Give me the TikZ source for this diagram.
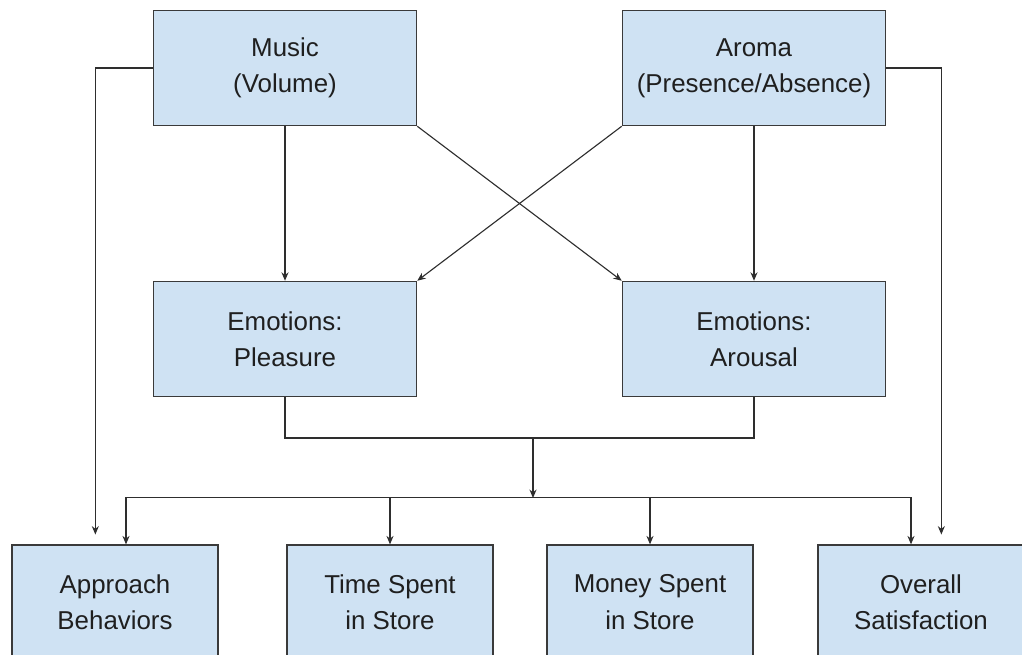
\documentclass[tikz,border=0pt]{standalone}
\usepackage{fontspec}
\setmainfont{Liberation Sans}
\usetikzlibrary{arrows.meta,calc}

\definecolor{boxblue}{HTML}{CFE2F3}
\definecolor{edgegray}{HTML}{3A3A3A}
\definecolor{wiregray}{HTML}{2E2E2E}

\tikzset{
  factor/.style={draw=edgegray, line width=0.9pt, fill=boxblue, align=center,
    font=\fontsize{18.4}{25.8}\selectfont, text=black!88,
    minimum width=6.58cm, minimum height=2.88cm},
  outcome/.style={factor, minimum width=5.15cm, minimum height=2.85cm},
  wire/.style={draw=wiregray, line width=0.8pt},
  flow/.style={wire, -{Stealth[length=6pt,width=5pt]}}
}

\begin{document}
\begin{tikzpicture}[x=0.025cm, y=-0.025cm]
  \useasboundingbox (0,0) rectangle (1022,654);

  % Stimuli
  \node[factor] (music) at (285,68) {Music\\(Volume)};
  \node[factor] (aroma) at (754,68) {Aroma\\(Presence/Absence)};

  % Emotions
  \node[factor] (pleasure) at (285,339) {Emotions:\\Pleasure};
  \node[factor] (arousal) at (754,339) {Emotions:\\Arousal};

  % Outcomes
  \node[outcome] (approach) at (115,602) {Approach\\Behaviors};
  \node[outcome] (time) at (390,602) {Time Spent\\in Store};
  \node[outcome] (money) at (650,602) {Money Spent\\in Store};
  \node[outcome] (overall) at (921,602) {Overall\\Satisfaction};

  % Stimuli to emotions
  \draw[flow] (music.south) -- (pleasure.north);
  \draw[flow] (aroma.south) -- (arousal.north);
  \draw[flow] (music.south east) -- (arousal.north west);
  \draw[flow] (aroma.south west) -- (pleasure.north east);

  % Direct paths
  \draw[flow, shorten >=7pt] (music.west) -| ($(approach.north west)+(84,0)$);
  \draw[flow, shorten >=7pt] (aroma.east) -| ($(overall.north west)+(124,0)$);

  % Emotions joined, then split to outcomes
  \coordinate (join) at (533,438);
  \coordinate (bus) at (533,498);
  \draw[wire] (pleasure.south) |- (join) -| (arousal.south);
  \draw[flow] (join) -- (bus);
  \draw[wire] ($(approach.north)+(11,-47)$) -- ($(overall.north)+(-10,-47)$);
  \draw[flow] ($(approach.north)+(11,-47)$) -- ($(approach.north)+(11,0)$);
  \draw[flow] ($(time.north)+(0,-47)$) -- (time.north);
  \draw[flow] ($(money.north)+(0,-47)$) -- (money.north);
  \draw[flow] ($(overall.north)+(-10,-47)$) -- ($(overall.north)+(-10,0)$);
\end{tikzpicture}
\end{document}
